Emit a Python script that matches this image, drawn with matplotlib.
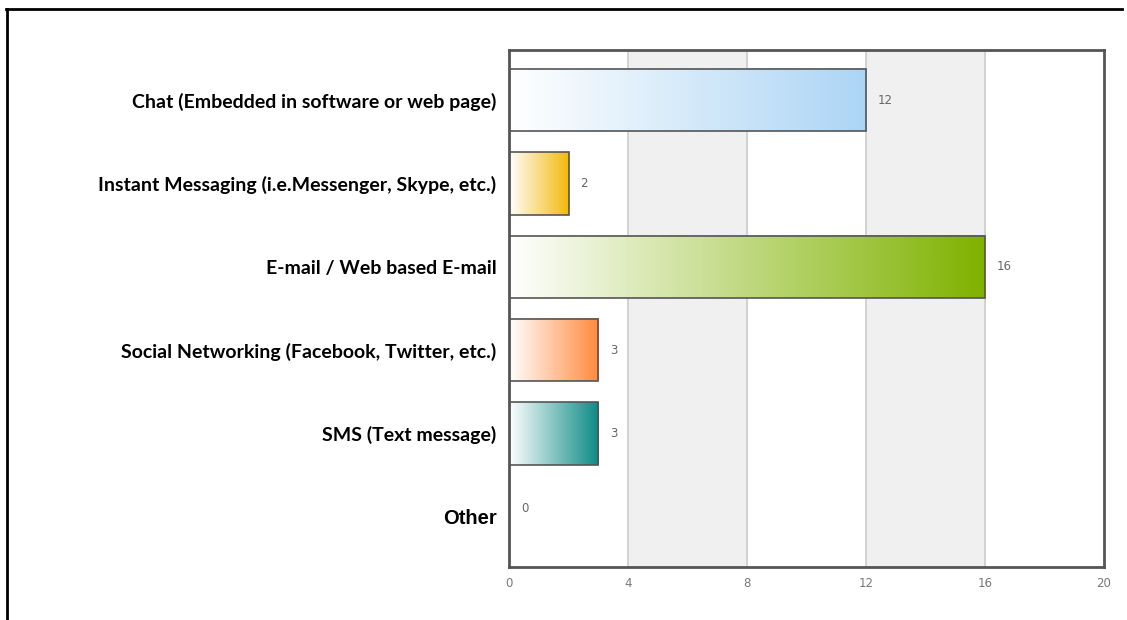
import numpy as np
import matplotlib.pyplot as plt
from matplotlib.colors import LinearSegmentedColormap
from matplotlib.lines import Line2D

categories = ["Chat (Embedded in software or web page)",
              "Instant Messaging (i.e.Messenger, Skype, etc.)",
              "E-mail / Web based E-mail",
              "Social Networking (Facebook, Twitter, etc.)",
              "SMS (Text message)",
              "Other"]
values = [12, 2, 16, 3, 3, 0]
colors = ["#acd5f5", "#f2b90c", "#7fb200", "#ff8a3d", "#0b8b86", "#cccccc"]
xticks = [0, 4, 8, 12, 16, 20]

fig = plt.figure(figsize=(11.27, 6.2), dpi=100)
ax = fig.add_axes([509 / 1127, 1 - 567 / 620, (1104 - 509) / 1127, (567 - 50) / 620])

# alternating background bands
for i in range(len(xticks) - 1):
    if i % 2 == 1:
        ax.axvspan(xticks[i], xticks[i + 1], color="#f0f0f0", zorder=0)
for x in xticks[1:-1]:
    ax.axvline(x, color="#cccccc", lw=1.2, zorder=1)

h = 0.75
grad = np.linspace(0, 1, 256).reshape(1, -1)
for i, (v, c) in enumerate(zip(values, colors)):
    if v > 0:
        cmap = LinearSegmentedColormap.from_list("g%d" % i, ["#ffffff", c])
        ax.imshow(grad, cmap=cmap, aspect="auto", extent=[0, v, i + h / 2, i - h / 2],
                  zorder=2, interpolation="bilinear")
        ax.add_patch(plt.Rectangle((0, i - h / 2), v, h, fill=False,
                                   edgecolor="#555555", lw=1.2, zorder=3))
    ax.text(v + 0.4, i - (0.1 if v == 0 else 0), str(v), color="#666666", fontsize=8.5,
            va="center", ha="left", family="DejaVu Sans")

ax.set_xlim(0, 20)
ax.set_ylim(5.6, -0.6)
ax.set_xticks(xticks)
ax.set_xticklabels([str(t) for t in xticks], color="#777777", fontsize=8.5)
ax.set_yticks(range(len(categories)))
ax.set_yticklabels(categories)
for i, lab in enumerate(ax.get_yticklabels()):
    if i == len(categories) - 1:
        lab.set_fontfamily("Liberation Sans")
        lab.set_fontsize(14.5)
    else:
        lab.set_fontfamily("Lato")
        lab.set_fontsize(14)
    lab.set_fontweight("bold")
ax.tick_params(axis="both", length=0)
ax.tick_params(axis="x", pad=7)
ax.tick_params(axis="y", pad=9)
for s in ax.spines.values():
    s.set_color("#555555")
    s.set_linewidth(2)

# outer frame
fig.add_artist(Line2D([6 / 1127, 1122 / 1127], [1 - 8.5 / 620, 1 - 8.5 / 620], color="black", lw=2))
fig.add_artist(Line2D([6.5 / 1127, 6.5 / 1127], [0, 1 - 8.5 / 620], color="black", lw=2))

fig.savefig("out.png", dpi=100)
